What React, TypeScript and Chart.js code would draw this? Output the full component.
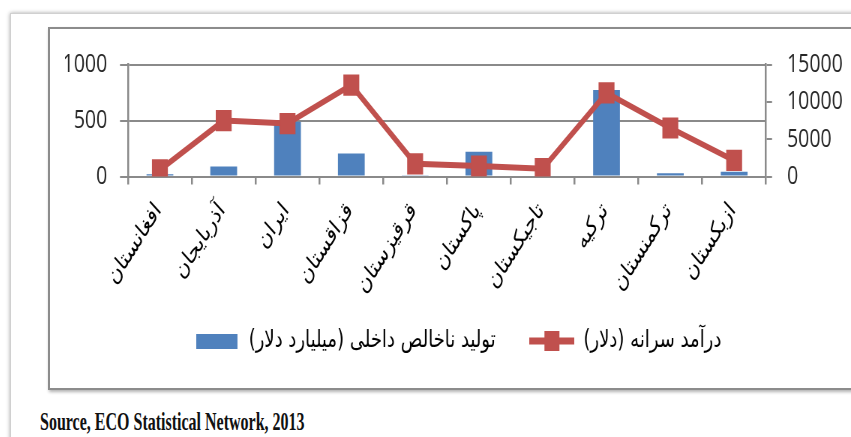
import React, { useEffect, useRef } from "react";
import { Chart, registerables } from "chart.js";

Chart.register(...registerables);

const categories = [
  "افغانستان",
  "آذربایجان",
  "ایران",
  "قزاقستان",
  "قرقیزستان",
  "پاکستان",
  "تاجیکستان",
  "ترکیه",
  "ترکمنستان",
  "ازبکستان",
];
const gdpBillionUsd = [20, 90, 490, 205, 7, 222, 8, 772, 28, 42];
const perCapitaUsd = [900, 7500, 7100, 12250, 1700, 1400, 1050, 11200, 6500, 2150];
const leftTicks = [0, 500, 1000];
const rightTicks = [0, 5000, 10000, 15000];
const gdpLabel = "تولید ناخالص داخلی (میلیارد دلار)";
const perCapitaLabel = "درآمد سرانه (دلار)";
const sourceText = "Source, ECO Statistical Network, 2013";

const BLUE = "#4F81BD";
const RED = "#C0504D";
const GRID = "#8a8a8a";
const SX = 0.75;
const CW = 1068;
const CH = 359;
const LEGEND_SHIFT = 25;

const shiftLegendPlugin = {
  id: "shiftLegend",
  afterLayout(chart: any) {
    const l = chart.legend;
    if (l) {
      l.top -= LEGEND_SHIFT;
      l.bottom -= LEGEND_SHIFT;
    }
  },
};

export default function App() {
  const ref = useRef<HTMLCanvasElement>(null);

  useEffect(() => {
    const canvas = ref.current!;
    const blue = document.createElement("canvas");
    blue.width = 55;
    blue.height = 15;
    const bctx = blue.getContext("2d")!;
    bctx.fillStyle = BLUE;
    bctx.fillRect(0, 0, 55, 15);

    const red = document.createElement("canvas");
    red.width = 60;
    red.height = 22;
    const rctx = red.getContext("2d")!;
    rctx.fillStyle = RED;
    rctx.fillRect(0, 7.5, 60, 7);
    rctx.fillRect(20, 1, 20, 20);

    const tickFont = { family: '"Open Sans", sans-serif', size: 26 };

    const chart = new Chart(canvas, {
      type: "bar",
      plugins: [shiftLegendPlugin],
      data: {
        labels: categories,
        datasets: [
          {
            type: "bar",
            label: gdpLabel,
            data: gdpBillionUsd,
            backgroundColor: BLUE,
            borderWidth: 0,
            yAxisID: "y",
            order: 2,
            barPercentage: 0.42,
            categoryPercentage: 1,
          },
          {
            type: "line",
            label: perCapitaLabel,
            data: perCapitaUsd,
            borderColor: RED,
            backgroundColor: RED,
            borderWidth: 6,
            pointStyle: "rect",
            pointRadius: 15,
            pointBackgroundColor: RED,
            pointBorderColor: RED,
            pointBorderWidth: 0,
            yAxisID: "y1",
            order: 1,
            tension: 0,
          } as any,
        ],
      },
      options: {
        responsive: false,
        animation: false,
        devicePixelRatio: 1,
        layout: { padding: { top: 28, bottom: 0, left: 20, right: 0 } },
        plugins: {
          tooltip: { enabled: false },
          legend: {
            position: "bottom",
            labels: {
              usePointStyle: true,
              pointStyleWidth: 60,
              padding: 45,
              color: "#000",
              font: { family: '"DejaVu Sans", sans-serif', size: 24 },
              generateLabels: () => [
                {
                  text: gdpLabel + "\u200F",
                  pointStyle: blue as any,
                  fillStyle: BLUE,
                  strokeStyle: BLUE,
                  lineWidth: 0,
                  hidden: false,
                  datasetIndex: 0,
                },
                {
                  text: perCapitaLabel + "\u200F",
                  pointStyle: red as any,
                  fillStyle: RED,
                  strokeStyle: RED,
                  lineWidth: 0,
                  hidden: false,
                  datasetIndex: 1,
                },
              ],
            },
          },
        },
        scales: {
          x: {
            offset: true,
            grid: {
              offset: true,
              drawOnChartArea: false,
              drawTicks: true,
              tickLength: 8,
              color: GRID,
              lineWidth: 2.5,
            },
            border: { display: true, color: GRID, width: 2 },
            ticks: {
              autoSkip: false,
              minRotation: 50,
              maxRotation: 50,
              padding: 13,
              labelOffset: -2,
              color: "#000",
              font: { family: '"DejaVu Sans", sans-serif', size: 24 },
            },
            afterFit: (s: any) => {
              s.height = 132.5;
            },
          },
          y: {
            position: "left",
            min: leftTicks[0],
            max: leftTicks[leftTicks.length - 1],
            afterBuildTicks: (s: any) => {
              s.ticks = leftTicks.map((v) => ({ value: v }));
            },
            ticks: {
              padding: 17,
              color: "#262626",
              font: tickFont,
              callback: (v: any) => String(v),
            },
            grid: { color: GRID, lineWidth: 2, tickLength: 10.7, drawTicks: true },
            border: { display: true, color: GRID, width: 2.5 },
            afterFit: (s: any) => {
              s.width = 84;
            },
          },
          y1: {
            position: "right",
            min: rightTicks[0],
            max: rightTicks[rightTicks.length - 1],
            afterBuildTicks: (s: any) => {
              s.ticks = rightTicks.map((v) => ({ value: v }));
            },
            ticks: {
              padding: 20,
              color: "#262626",
              font: tickFont,
              callback: (v: any) => String(v),
            },
            grid: { drawOnChartArea: false, color: GRID, lineWidth: 2, tickLength: 8, drawTicks: true },
            border: { display: true, color: GRID, width: 2.5 },
            afterFit: (s: any) => {
              s.width = 113.3;
            },
          },
        },
      } as any,
    });
    return () => chart.destroy();
  }, []);

  return (
    <div
      style={{
        position: "absolute",
        left: 0,
        top: 0,
        width: 851,
        height: 437,
        overflow: "hidden",
        background: "#fff",
      }}
    >
      <div
        style={{
          position: "absolute",
          left: 10,
          top: 13,
          width: 900,
          height: 500,
          border: "1px solid #d0d0d0",
          boxShadow: "0 0 4px rgba(0,0,0,0.35)",
          background: "#fff",
        }}
      />
      <div
        style={{
          position: "absolute",
          left: 48,
          top: 27,
          width: 900,
          height: 359,
          border: "2px solid #8c8c8c",
          boxShadow: "1px 2px 3px rgba(0,0,0,0.3)",
          background: "#fff",
        }}
      />
      <canvas
        ref={ref}
        width={CW}
        height={CH}
        style={{
          position: "absolute",
          left: 50,
          top: 29,
          width: CW,
          height: CH,
          transform: `scaleX(${SX})`,
          transformOrigin: "0 0",
        }}
      />
      <div
        style={{
          position: "absolute",
          left: 40,
          top: 409,
          fontFamily: '"Liberation Serif", serif',
          fontWeight: "bold",
          fontSize: 25,
          lineHeight: "25px",
          whiteSpace: "nowrap",
          transform: "scaleX(0.64)",
          transformOrigin: "0 0",
          color: "#111",
        }}
      >
        {sourceText}
      </div>
    </div>
  );
}
